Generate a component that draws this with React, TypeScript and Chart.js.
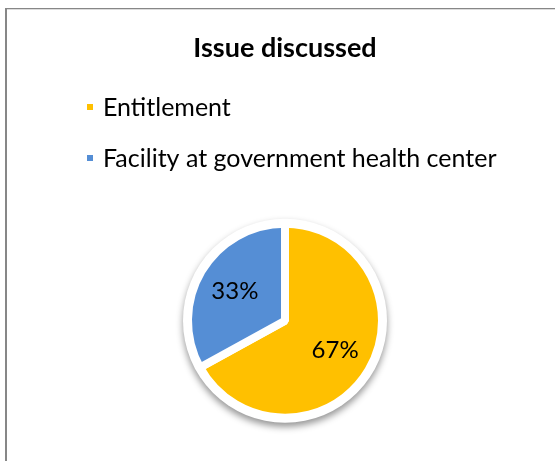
import React, { useEffect, useRef } from "react";
import { Chart, registerables } from "chart.js";

Chart.register(...registerables);

const categories = ["Entitlement", "Facility at government health center"];
const values = [67, 33];
const colors = ["#FFC000", "#558ED5"];
const titleText = "Issue discussed";

const FONT = "Lato, 'Open Sans', sans-serif";

const pieBackdrop = {
  id: "pieBackdrop",
  beforeDatasetsDraw(chart: any) {
    const meta = chart.getDatasetMeta(0);
    const arc = meta.data[0];
    if (!arc) return;
    const { x, y, outerRadius } = arc.getProps(["x", "y", "outerRadius"], true);
    const ctx = chart.ctx;
    ctx.save();
    ctx.beginPath();
    ctx.arc(x, y, outerRadius + 5, 0, Math.PI * 2);
    ctx.fillStyle = "#ffffff";
    ctx.shadowColor = "rgba(0,0,0,0.42)";
    ctx.shadowBlur = 7;
    ctx.shadowOffsetY = 4;
    ctx.fill();
    ctx.restore();
  },
};

const pieLabels = {
  id: "pieLabels",
  afterDatasetsDraw(chart: any) {
    const meta = chart.getDatasetMeta(0);
    const data = chart.data.datasets[0].data as number[];
    const total = data.reduce((a, b) => a + b, 0);
    const ctx = chart.ctx;
    ctx.save();
    ctx.font = `24px ${FONT}`;
    ctx.fillStyle = "#000000";
    ctx.textAlign = "center";
    ctx.textBaseline = "middle";
    meta.data.forEach((arc: any, i: number) => {
      const { x, y, startAngle, endAngle, outerRadius } = arc.getProps(
        ["x", "y", "startAngle", "endAngle", "outerRadius"],
        true
      );
      const mid = (startAngle + endAngle) / 2;
      const r = outerRadius * 0.6;
      const label = Math.round((data[i] / total) * 100) + "%";
      ctx.fillText(label, x + Math.cos(mid) * r, y + Math.sin(mid) * r);
    });
    ctx.restore();
  },
};

const sideLegend = {
  id: "sideLegend",
  afterDraw(chart: any) {
    const ctx = chart.ctx;
    const labels = chart.data.labels as string[];
    const bg = chart.data.datasets[0].backgroundColor as string[];
    ctx.save();
    ctx.font = `25px ${FONT}`;
    ctx.textAlign = "left";
    ctx.textBaseline = "alphabetic";
    labels.forEach((lab, i) => {
      const baseline = 116 + i * 51;
      ctx.fillStyle = bg[i];
      ctx.fillRect(87, baseline - 12, 6, 6);
      ctx.fillStyle = "#000000";
      ctx.fillText(lab, 103, baseline);
    });
    ctx.restore();
  },
};

export default function App() {
  const ref = useRef<HTMLCanvasElement | null>(null);

  useEffect(() => {
    if (!ref.current) return;
    const chart = new Chart(ref.current, {
      type: "pie",
      data: {
        labels: categories,
        datasets: [
          {
            data: values,
            backgroundColor: colors,
            borderColor: "#ffffff",
            borderWidth: 8,
            hoverBorderWidth: 8,
            hoverOffset: 0,
          },
        ],
      },
      options: {
        animation: false,
        responsive: false,
        events: [],
        radius: 97,
        layout: { padding: { left: 15, right: 0, top: 0, bottom: 19 } },
        plugins: {
          legend: { display: false },
          tooltip: { enabled: false },
          title: {
            display: true,
            text: titleText,
            color: "#000000",
            font: { family: FONT, size: 27, weight: "bold" },
            padding: { top: 32, bottom: 135 },
          },
        },
      } as any,
      plugins: [pieBackdrop, pieLabels, sideLegend],
    });
    return () => chart.destroy();
  }, []);

  return (
    <div
      style={{
        position: "fixed",
        left: 0,
        top: 0,
        width: 555,
        height: 461,
        overflow: "hidden",
        background: "#ffffff",
      }}
    >
      <div
        style={{
          position: "absolute",
          left: 5,
          top: 8,
          width: 700,
          height: 700,
          borderLeft: "2px solid #878787",
          borderTop: "1px solid #878787",
          boxShadow: "inset 0 1px 0 #dcdcdc",
        }}
      />
      <canvas
        ref={ref}
        width={555}
        height={461}
        style={{ position: "absolute", left: 0, top: 0, width: 555, height: 461 }}
      />
    </div>
  );
}
